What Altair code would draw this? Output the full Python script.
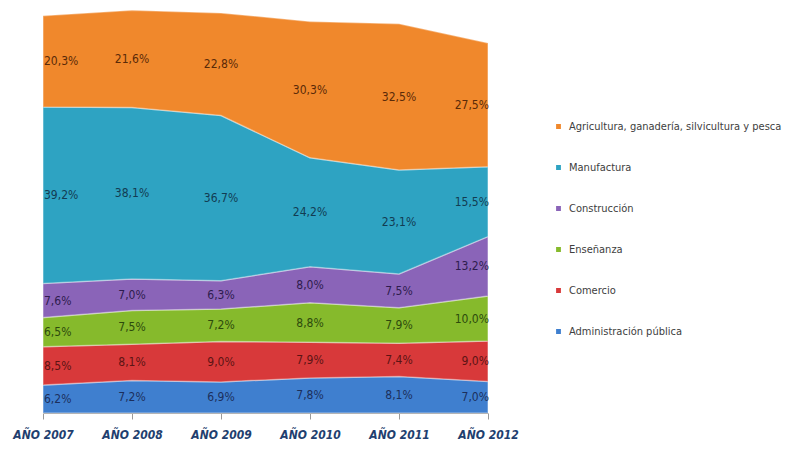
import altair as alt
import pandas as pd

years = ["AÑO 2007", "AÑO 2008", "AÑO 2009", "AÑO 2010", "AÑO 2011", "AÑO 2012"]
series = [
    "Administración pública",
    "Comercio",
    "Enseñanza",
    "Construcción",
    "Manufactura",
    "Agricultura, ganadería, silvicultura y pesca",
]
admin = [6.2, 7.2, 6.9, 7.8, 8.1, 7.0]
comercio = [8.5, 8.1, 9.0, 7.9, 7.4, 9.0]
ensenanza = [6.5, 7.5, 7.2, 8.8, 7.9, 10.0]
construccion = [7.6, 7.0, 6.3, 8.0, 7.5, 13.2]
manufactura = [39.2, 38.1, 36.7, 24.2, 23.1, 15.5]
agricultura = [20.3, 21.6, 22.8, 30.3, 32.5, 27.5]

values = [admin, comercio, ensenanza, construccion, manufactura, agricultura]
area_colors = ["#3F7FCF", "#D8393A", "#86BA2C", "#8A64B8", "#2EA3C2", "#F0882C"]
text_colors = ["#1c2f5c", "#5c1414", "#2d4a0c", "#2e1c4e", "#123c52", "#5a2a08"]
legend_order = list(reversed(series))
FONT = "DejaVu Sans Condensed, Liberation Sans, sans-serif"

rows = []
for si, (name, vals) in enumerate(zip(series, values)):
    for yi, (yr, v) in enumerate(zip(years, vals)):
        rows.append({
            "year": yr,
            "serie": name,
            "value": v,
            "ord": si,
            "pos": "first" if yi == 0 else ("last" if yi == len(years) - 1 else "mid"),
            "label": f"{v:.1f}".replace(".", ",") + "%",
        })
df = pd.DataFrame(rows)

W, H = 445, 405
x_enc = alt.X("year:O", scale=alt.Scale(type="point", padding=0, domain=years),
              axis=alt.Axis(title=None, labelAngle=0, domainColor="#9a9a9a",
                            ticks=True, tickColor="#9a9a9a", tickSize=6, labelPadding=10,
                            labelFont=FONT, labelFontSize=12,
                            labelFontWeight="bold", labelFontStyle="italic",
                            labelColor="#1F3F6F", grid=False))
y_scale = alt.Scale(domain=[0, 90], nice=False)

base = alt.Chart(df)

area = base.mark_area(interpolate="linear", stroke="#ffffff", strokeOpacity=0.35,
                      strokeWidth=1.5).encode(
    x=x_enc,
    y=alt.Y("value:Q", stack="zero", scale=y_scale, axis=None),
    color=alt.Color("serie:N", scale=alt.Scale(domain=series, range=area_colors),
                    sort=legend_order,
                    legend=alt.Legend(title=None, orient="none", legendX=510, legendY=113,
                                      symbolType="square", symbolSize=40,
                                      labelFont=FONT, labelFontSize=11, labelLimit=300,
                                      labelColor="#404040", labelOffset=5, rowPadding=28,
                                      padding=0, values=legend_order)),
    order=alt.Order("ord:Q", sort="ascending"),
)

stacked = base.transform_stack(
    stack="value", groupby=["year"], as_=["v0", "v1"], sort=[alt.SortField("ord", order="ascending")]
).transform_calculate(mid="(datum.v0 + datum.v1) / 2")


def text_layer(pos, align, dx):
    return stacked.transform_filter(alt.datum.pos == pos).mark_text(
        align=align, baseline="middle", dx=dx, font=FONT, fontSize=12
    ).encode(
        x=alt.X("year:O", scale=alt.Scale(type="point", padding=0, domain=years)),
        y=alt.Y("mid:Q", scale=y_scale),
        text="label:N",
        color=alt.Color("serie:N", scale=alt.Scale(domain=series, range=text_colors), legend=None),
    )

texts = text_layer("first", "left", 1) + text_layer("mid", "center", 0) + text_layer("last", "right", 1)

chart = alt.layer(area, texts).resolve_scale(color="independent").properties(
    width=W, height=H,
    padding={"left": 35, "top": 0, "right": 303, "bottom": 30},
    autosize=alt.AutoSizeParams(type="none"),
).configure_view(stroke=None)

chart.save("out.html", embed_options={"renderer": "svg", "actions": False})
